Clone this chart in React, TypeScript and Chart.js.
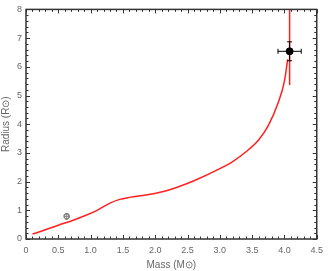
import React, { useEffect, useRef } from "react";
import { Chart, registerables } from "chart.js";
Chart.register(...registerables);

const modelMass = [0.1, 0.3, 0.5, 0.7, 0.9, 1.1, 1.3, 1.45, 1.6, 1.9, 2.2, 2.6, 3.0, 3.2, 3.4, 3.6, 3.75, 3.9, 4.0, 4.05];
const modelRadius = [0.17, 0.32, 0.48, 0.63, 0.8, 1.0, 1.25, 1.38, 1.45, 1.55, 1.7, 2.03, 2.45, 2.7, 3.03, 3.45, 3.95, 4.73, 5.5, 6.26];
const obsMass = [4.08, 0.63];
const obsRadius = [6.54, 0.79];
const obsMassErr = [0.18, 0.04];
const obsRadiusErr = [0.33, 0.1];
const obsColors = ["#000000", "#808080"];
const limitMass = [4.08, 4.08];
const limitRadius = [5.37, 8];
const xRange = [0, 4.5];
const yRange = [0, 8];
const xMajor = 0.5;
const yMajor = 1;
const xMinor = 0.1;
const yMinor = 0.2;

const axisColor = "#333333";
const textColor = "#666666";

const frameTicks = {
  id: "frameTicks",
  afterDatasetsDraw(chart: any) {
    const { ctx, chartArea: a, scales } = chart;
    const xs = scales.x;
    const ys = scales.y;
    ctx.save();
    const cap = 2.5;
    for (let i = 0; i < obsMass.length; i++) {
      ctx.strokeStyle = obsColors[i];
      ctx.lineWidth = 1;
      const px = xs.getPixelForValue(obsMass[i]);
      const py = ys.getPixelForValue(obsRadius[i]);
      const x0 = xs.getPixelForValue(obsMass[i] - obsMassErr[i]);
      const x1 = xs.getPixelForValue(obsMass[i] + obsMassErr[i]);
      const y0 = ys.getPixelForValue(obsRadius[i] - obsRadiusErr[i]);
      const y1 = ys.getPixelForValue(obsRadius[i] + obsRadiusErr[i]);
      const c = i === 0 ? cap : 1.5;
      ctx.beginPath();
      ctx.moveTo(x0, py); ctx.lineTo(x1, py);
      ctx.moveTo(x0, py - c); ctx.lineTo(x0, py + c);
      ctx.moveTo(x1, py - c); ctx.lineTo(x1, py + c);
      ctx.moveTo(px, y0); ctx.lineTo(px, y1);
      ctx.moveTo(px - c, y0); ctx.lineTo(px + c, y0);
      ctx.moveTo(px - c, y1); ctx.lineTo(px + c, y1);
      ctx.stroke();
    }
    ctx.strokeStyle = axisColor;
    ctx.lineWidth = 1.5;
    ctx.strokeRect(a.left, a.top, a.right - a.left, a.bottom - a.top);
    ctx.lineWidth = 1;
    ctx.beginPath();
    const nx = Math.round((xRange[1] - xRange[0]) / xMinor);
    for (let i = 0; i <= nx; i++) {
      const v = xRange[0] + i * xMinor;
      const p = Math.round(xs.getPixelForValue(v)) + 0.5;
      const len = i % Math.round(xMajor / xMinor) === 0 ? 4 : 2.5;
      ctx.moveTo(p, a.bottom); ctx.lineTo(p, a.bottom - len);
      ctx.moveTo(p, a.top); ctx.lineTo(p, a.top + len);
    }
    const ny = Math.round((yRange[1] - yRange[0]) / yMinor);
    for (let i = 0; i <= ny; i++) {
      const v = yRange[0] + i * yMinor;
      const p = Math.round(ys.getPixelForValue(v)) + 0.5;
      const len = i % Math.round(yMajor / yMinor) === 0 ? 4 : 2.5;
      ctx.moveTo(a.left, p); ctx.lineTo(a.left + len, p);
      ctx.moveTo(a.right, p); ctx.lineTo(a.right - len, p);
    }
    ctx.stroke();
    ctx.restore();
  },
};

export default function App() {
  const ref = useRef<HTMLCanvasElement>(null);
  useEffect(() => {
    document.body.style.margin = "0";
    const chart = new Chart(ref.current!, {
      type: "scatter",
      data: {
        datasets: [
          {
            data: obsMass.map((m, i) => ({ x: m, y: obsRadius[i] })),
            pointBackgroundColor: ["#000000", "#ffffff"],
            pointBorderColor: obsColors,
            pointBorderWidth: [1, 1.2],
            pointRadius: [3.5, 2.5],
            showLine: false,
          },
          {
            data: limitMass.map((m, i) => ({ x: m, y: limitRadius[i] })),
            showLine: true,
            borderColor: "#ff2020",
            borderWidth: 1.5,
            pointRadius: 0,
          },
          {
            data: modelMass.map((m, i) => ({ x: m, y: modelRadius[i] })),
            showLine: true,
            borderColor: "#ff2020",
            borderWidth: 1.5,
            pointRadius: 0,
            cubicInterpolationMode: "monotone",
          },
        ],
      },
      options: {
        animation: false,
        responsive: false,
        maintainAspectRatio: false,
        layout: { padding: { top: 4, right: 7, left: 0, bottom: 0 } },
        plugins: { legend: { display: false }, tooltip: { enabled: false } },
        scales: {
          x: {
            type: "linear",
            min: xRange[0],
            max: xRange[1],
            ticks: {
              stepSize: xMajor,
              color: textColor,
              font: { family: "Liberation Sans", size: 9 },
              padding: 6,
              maxRotation: 0,
            },
            grid: { display: false, drawTicks: false },
            border: { display: false },
            title: {
              display: true,
              text: "Mass (M⊙)",
              color: textColor,
              font: { family: "Liberation Sans", size: 10 },
              padding: { top: 3, bottom: 0 },
            },
            afterFit: (s: any) => { s.height = 32; },
          },
          y: {
            type: "linear",
            min: yRange[0],
            max: yRange[1],
            ticks: {
              stepSize: yMajor,
              color: textColor,
              font: { family: "Liberation Sans", size: 9 },
              padding: 4,
            },
            grid: { display: false, drawTicks: false },
            border: { display: false },
            title: {
              display: true,
              text: "Radius (R⊙)",
              color: textColor,
              font: { family: "Liberation Sans", size: 10 },
              padding: { top: 0, bottom: 2 },
            },
            afterFit: (s: any) => { s.width = 26; },
          },
        },
      },
      plugins: [frameTicks],
    } as any);
    return () => chart.destroy();
  }, []);
  return <canvas ref={ref} width={329} height={271} style={{ display: "block" }} />;
}
